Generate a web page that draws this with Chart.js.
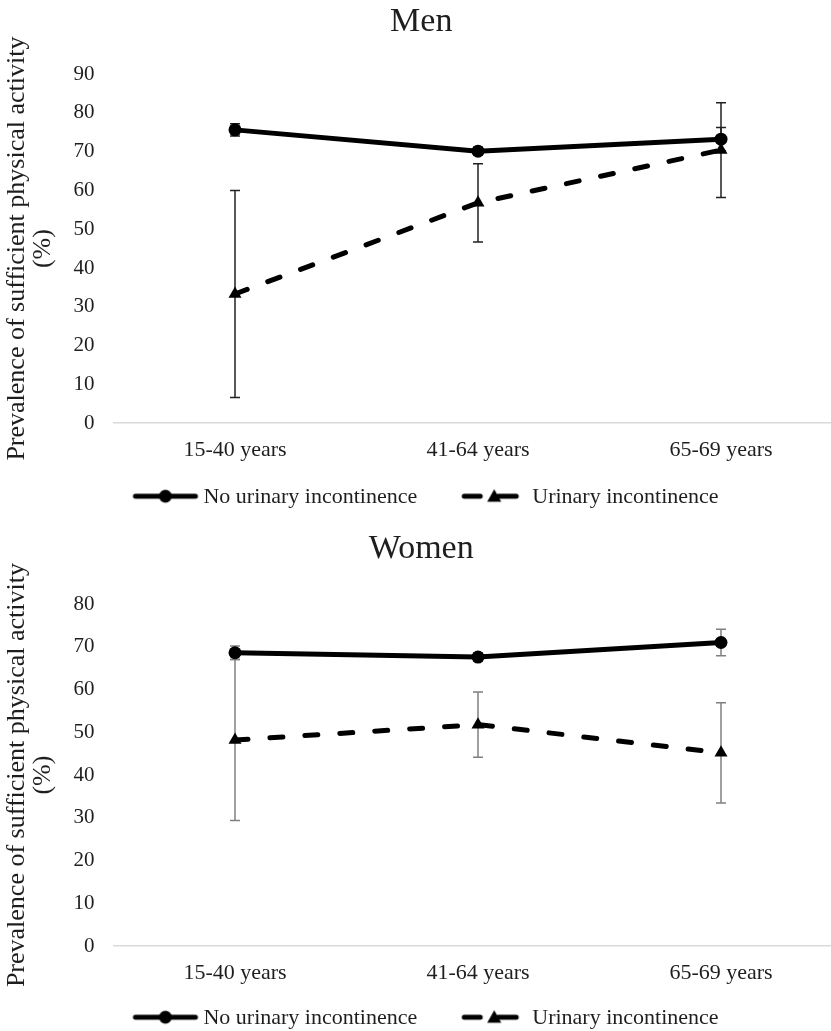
<!DOCTYPE html>
<html><head><meta charset="utf-8">
<script src="https://cdn.jsdelivr.net/npm/chart.js@4.4.0/dist/chart.umd.min.js"></script>
<style>
html,body{margin:0;padding:0;background:#fff;overflow:hidden;}
.wrap{position:relative;width:850px;}
#w1{height:515px;} #w2{height:516px;}
</style></head><body>
<div class="wrap" id="w1"><canvas id="c1"></canvas></div>
<div class="wrap" id="w2"><canvas id="c2"></canvas></div>
<script>
const categories = ['15-40 years', '41-64 years', '65-69 years'];
const seriesNames = ['No urinary incontinence', 'Urinary incontinence'];

const menNoUI = [75.6, 70.1, 73.2];
const menNoUIErr = [1.6, 1.0, 3.0];
const menUI = [33.3, 56.8, 70.4];
const menUIErr = [26.7, 10.1, 12.2];

const womenNoUI = [68.6, 67.6, 71.0];
const womenNoUIErr = [1.6, 1.0, 3.1];
const womenUI = [48.2, 51.8, 45.2];
const womenUIErr = [18.8, 7.6, 11.7];

const menYMax = 90;
const womenYMax = 80;
const yStep = 10;

const FONT = '"Liberation Serif", "Times New Roman", serif';
const TXT = '#1e1e1e';

function makeSample(dashed) {
  const c = document.createElement('canvas');
  c.width = 72; c.height = 18;
  const g = c.getContext('2d');
  g.strokeStyle = '#000'; g.fillStyle = '#000'; g.lineWidth = 5; g.lineCap = 'round';
  if (!dashed) {
    g.beginPath(); g.moveTo(4, 9); g.lineTo(64, 9); g.stroke();
    g.beginPath(); g.arc(34, 9, 6.5, 0, Math.PI * 2); g.fill();
  } else {
    g.beginPath(); g.moveTo(4, 9); g.lineTo(20, 9); g.stroke();
    g.beginPath(); g.moveTo(38, 9); g.lineTo(56, 9); g.stroke();
    g.beginPath(); g.moveTo(34, 2); g.lineTo(41, 14.5); g.lineTo(27, 14.5); g.closePath(); g.fill();
  }
  return c;
}
const sampleSolid = makeSample(false);
const sampleDashed = makeSample(true);

const errorBars = {
  id: 'errorBars',
  beforeDatasetsDraw(chart, args, opts) {
    const ctx = chart.ctx;
    const y = chart.scales.y;
    chart.data.datasets.forEach((ds, i) => {
      const meta = chart.getDatasetMeta(i);
      ds.errors.forEach((e, j) => {
        const x = meta.data[j].x;
        const v = ds.data[j];
        const yt = y.getPixelForValue(v + e), yb = y.getPixelForValue(v - e);
        ctx.save();
        ctx.strokeStyle = opts.color; ctx.lineWidth = 1.5;
        ctx.beginPath();
        ctx.moveTo(x, yt); ctx.lineTo(x, yb);
        ctx.moveTo(x - 5, yt); ctx.lineTo(x + 5, yt);
        ctx.moveTo(x - 5, yb); ctx.lineTo(x + 5, yb);
        ctx.stroke();
        ctx.restore();
      });
    });
  }
};

const lineLegend = {
  id: 'lineLegend',
  afterDraw(chart, args, opts) {
    const ctx = chart.ctx;
    ctx.save();
    ctx.font = opts.size + 'px ' + FONT;
    const items = chart.data.datasets.map(d => ({ text: d.label, sample: d.sample, w: ctx.measureText(d.label).width }));
    const gap = 43;
    const total = items.reduce((a, it) => a + it.sample.width + it.w, 0) + gap * (items.length - 1);
    let x = opts.center - total / 2;
    const y = chart.chartArea.bottom + opts.offset;
    ctx.fillStyle = TXT; ctx.textBaseline = 'middle'; ctx.textAlign = 'left';
    items.forEach(it => {
      ctx.drawImage(it.sample, x, y - it.sample.height / 2);
      x += it.sample.width;
      ctx.fillText(it.text, x, y + 1);
      x += it.w + gap;
    });
    ctx.restore();
  }
};

function build(id, title, noUI, noUIErr, ui, uiErr, yMax, errColor, lay) {
  return new Chart(document.getElementById(id), {
    type: 'line',
    data: {
      labels: categories,
      datasets: [
        { label: seriesNames[0], data: noUI, errors: noUIErr, borderColor: '#000', backgroundColor: '#000',
          borderWidth: 5, pointStyle: 'circle', pointRadius: 6.5, pointBackgroundColor: '#000', pointBorderWidth: 0,
          tension: 0, sample: sampleSolid },
        { label: seriesNames[1], data: ui, errors: uiErr, borderColor: '#000', backgroundColor: '#000',
          borderWidth: 5, borderDash: [13, 22], borderCapStyle: 'round', pointStyle: 'triangle', pointRadius: 7.5,
          pointBackgroundColor: '#000', pointBorderWidth: 0, tension: 0, sample: sampleDashed }
      ]
    },
    options: {
      responsive: true, maintainAspectRatio: false, animation: false,
      layout: { padding: { left: 0, right: 7.5, top: 0, bottom: lay.bottom } },
      plugins: {
        title: { display: true, text: title, color: TXT, font: { family: FONT, size: 34, weight: 'normal', lineHeight: 1.2 },
                 padding: { top: lay.titleTop, bottom: lay.titleBottom } },
        legend: { display: false },
        tooltip: { enabled: false },
        errorBars: { color: errColor },
        lineLegend: { size: 22, offset: lay.legendOffset, center: 425 }
      },
      scales: {
        x: { offset: true, grid: { display: false, drawTicks: false }, border: { display: true, color: '#d9d9d9', width: 1.5 },
             ticks: { color: TXT, font: { family: FONT, size: 22, lineHeight: 1.2 }, padding: 13.8 } },
        y: { min: 0, max: yMax, grid: { display: false, drawTicks: false }, border: { display: false },
             ticks: { stepSize: yStep, color: TXT, font: { family: FONT, size: 21 }, padding: 19 },
             title: { display: true, text: ['Prevalence of sufficient physical activity', '(%)'], color: TXT,
                      font: { family: FONT, size: 26, lineHeight: 1.0 }, padding: { top: 4, bottom: 0 } },
             afterFit: (ax) => { ax.width = 113.5; } }
      }
    },
    plugins: [errorBars, lineLegend]
  });
}

build('c1', 'Men', menNoUI, menNoUIErr, menUI, menUIErr, menYMax, '#222',
      { titleTop: 2, titleBottom: 31.2, bottom: 37.8, legendOffset: 73 });
build('c2', 'Women', womenNoUI, womenNoUIErr, womenUI, womenUIErr, womenYMax, '#808080',
      { titleTop: 13.6, titleBottom: 34.6, bottom: 30.8, legendOffset: 71 });
</script>
</body></html>
